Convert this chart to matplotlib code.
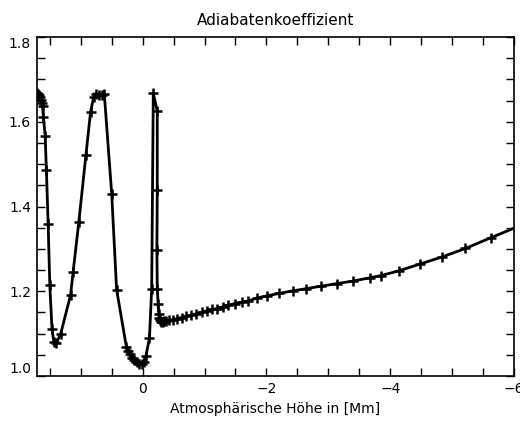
import numpy as np
import matplotlib
matplotlib.use("Agg")
from matplotlib import pyplot as plt
from matplotlib.ticker import MultipleLocator

# height [Mm] and adiabatic exponent along the model atmosphere
hoehe = [1.705, 1.690, 1.675, 1.660, 1.645, 1.630, 1.618, 1.603, 1.575, 1.555,
         1.527, 1.500, 1.465, 1.435, 1.400, 1.327, 1.165, 1.123, 1.031, 0.917,
         0.841, 0.790, 0.750, 0.700, 0.660, 0.620, 0.500, 0.421, 0.262, 0.235,
         0.205, 0.178, 0.141, 0.097, 0.055, 0.016, -0.021, -0.053, -0.110, -0.146,
         -0.172, -0.236, -0.236, -0.230, -0.236, -0.250, -0.258, -0.268, -0.282, -0.300,
         -0.324, -0.350, -0.377, -0.430, -0.485, -0.550, -0.630, -0.700, -0.777, -0.862,
         -0.955, -1.036, -1.117, -1.197, -1.294, -1.385, -1.494, -1.602, -1.709, -1.845,
         -2.006, -2.210, -2.427, -2.642, -2.880, -3.139, -3.398, -3.678, -3.851, -4.136,
         -4.476, -4.838, -5.215, -5.620, -6.120]
gamma = [1.667, 1.665, 1.662, 1.658, 1.652, 1.645, 1.636, 1.611, 1.566, 1.485,
         1.359, 1.214, 1.112, 1.080, 1.077, 1.098, 1.191, 1.246, 1.364, 1.521,
         1.624, 1.659, 1.665, 1.664, 1.663, 1.666, 1.430, 1.204, 1.068, 1.060,
         1.053, 1.043, 1.037, 1.032, 1.028, 1.029, 1.033, 1.047, 1.090, 1.206,
         1.667, 1.625, 1.439, 1.297, 1.206, 1.171, 1.147, 1.136, 1.131, 1.128,
         1.128, 1.129, 1.130, 1.132, 1.133, 1.135, 1.138, 1.141, 1.143, 1.147,
         1.150, 1.154, 1.157, 1.159, 1.163, 1.167, 1.171, 1.174, 1.177, 1.184,
         1.189, 1.195, 1.201, 1.206, 1.212, 1.218, 1.224, 1.232, 1.237, 1.248,
         1.264, 1.281, 1.301, 1.326, 1.356]

xticks = [0, -2, -4, -6]
yticks = [1.0, 1.2, 1.4, 1.6, 1.8]

fig = plt.figure(figsize=(5.2, 4.21), dpi=100)
ax = fig.add_axes([0.0702, 0.1069, 0.9183, 0.8052])

ax.plot(hoehe, gamma, color='black', lw=2, marker='+', ms=6.5, mew=1.8)

ax.set_xticks(xticks)
ax.set_yticks(yticks, ['%.1f' % v for v in yticks])
ax.xaxis.set_minor_locator(MultipleLocator(0.5))
ax.yaxis.set_minor_locator(MultipleLocator(0.05))
ax.set_xlim(1.715, -6)
ax.set_ylim(1.0, 1.8)
ax.tick_params(which='both', direction='in', top=True, right=True,
               length=5.5, width=1, labelsize=10, colors='black', pad=4)
for sp in ax.spines.values():
    sp.set_linewidth(1.2)

# IDL-style: end labels pulled inside the axis range
yt = ax.yaxis.get_major_ticks()
yt[0].label1.set_va('bottom')
yt[-1].label1.set_va('top')

ax.set_title('Adiabatenkoeffizient', fontsize=11, pad=9)
ax.set_xlabel('Atmosphärische Höhe in [Mm]', fontsize=10, labelpad=5)

fig.savefig('out.png', dpi=100)
